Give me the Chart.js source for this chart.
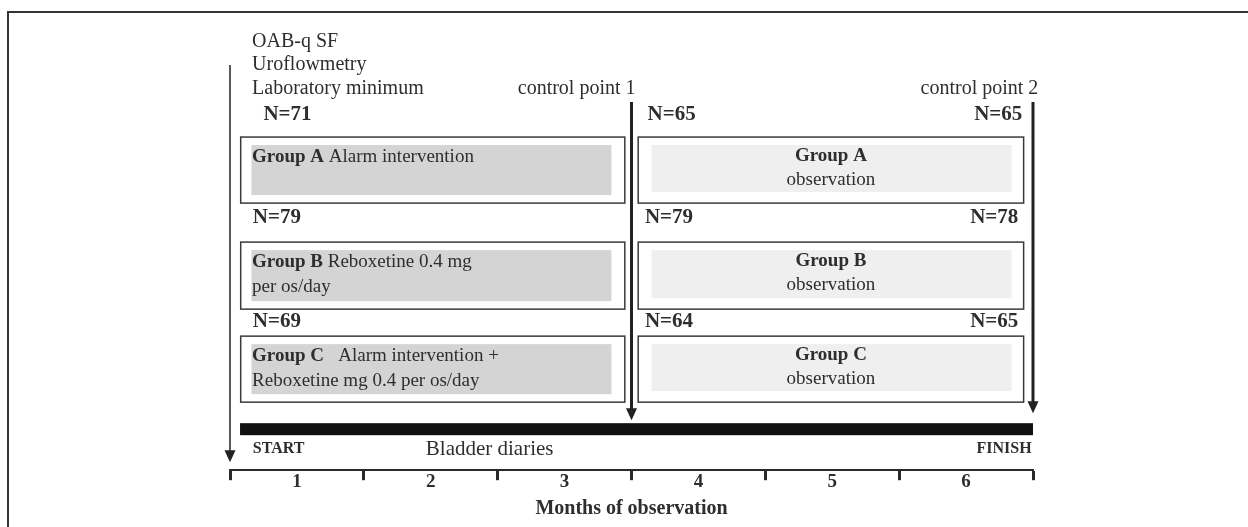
<!DOCTYPE html>
<html>
<head>
<meta charset="utf-8">
<script src="https://cdn.jsdelivr.net/npm/chart.js@4/dist/chart.umd.min.js"></script>
<style>
  html, body { margin: 0; padding: 0; background: #fff; }
  #wrap { width: 1248px; height: 527px; position: relative; }
</style>
</head>
<body>
<div id="wrap"><canvas id="plot"></canvas></div>
<script>
// data
const months = ['1', '2', '3', '4', '5', '6'];
const baselineTests = ['OAB-q SF', 'Uroflowmetry', 'Laboratory minimum'];
const groups = ['Group A', 'Group B', 'Group C'];
const treatment = [
    ['Alarm intervention'],
    ['Reboxetine 0.4 mg', 'per os/day'],
    ['  Alarm intervention +', 'Reboxetine mg 0.4 per os/day']
];
const followUp = 'observation';
const nStart = [71, 79, 69];
const nControl1 = [65, 79, 64];
const nControl2 = [65, 78, 65];
const controlMonths = [3, 6];
const controlLabels = ['control point 1', 'control point 2'];
const diaryLabels = ['START', 'Bladder diaries', 'FINISH'];

// layout (x in months, y in the layout scale that runs top->down)
const L = {
    boxTop: [137, 242, 336],
    boxBottom: [203, 309, 402],
    fillInset: [8, 8, 8],
    nRowY: [115, 217, 321],
    nStartX: [0.25, 0.17, 0.17],
    nCp1X: [3.12, 3.10, 3.10],
    nCp2X: [5.92, 5.89, 5.89],
    leftBox: [0.08, 2.95], leftFill: [0.16, 2.85],
    rightBox: [3.05, 5.93], rightFill: [3.15, 5.84],
    textX: 0.165,
    topTextY: [42, 65, 89],
    cpTextX: [3.03, 6.04],
    arrowTop: [65, 102, 102], arrowTip: [462, 420, 413],
    barX: [0.075, 6], barY: [423, 435],
    diaryY: 449, diaryX: [0.17, 1.94, 5.99]
};

const FONT = '"Liberation Serif", "Times New Roman", serif';
const INK = '#2e2e2e';

function font(size, bold) { return (bold ? 'bold ' : '') + size + 'px ' + FONT; }

function rich(ctx, parts, x, y, align) {
    let w = 0;
    parts.forEach(p => { ctx.font = font(p.size, p.bold); w += ctx.measureText(p.t).width; });
    let cx = align === 'center' ? x - w / 2 : (align === 'right' ? x - w : x);
    ctx.textAlign = 'left';
    parts.forEach(p => {
        ctx.font = font(p.size, p.bold);
        ctx.fillText(p.t, cx, y);
        cx += ctx.measureText(p.t).width;
    });
}

function arrow(ctx, x, y0, y1, lw) {
    ctx.save();
    ctx.strokeStyle = '#222';
    ctx.fillStyle = '#222';
    ctx.lineWidth = lw;
    ctx.beginPath();
    ctx.moveTo(x, y0);
    ctx.lineTo(x, y1 - 10);
    ctx.stroke();
    ctx.beginPath();
    ctx.moveTo(x - 5.5, y1 - 12);
    ctx.lineTo(x + 5.5, y1 - 12);
    ctx.lineTo(x, y1);
    ctx.closePath();
    ctx.fill();
    ctx.restore();
}

const diagram = {
    id: 'diagram',
    afterDraw(chart) {
        const ctx = chart.ctx;
        const X = v => chart.scales.x.getPixelForValue(v);
        const Y = v => chart.scales.y.getPixelForValue(v);
        ctx.save();

        // outer frame
        ctx.strokeStyle = '#333';
        ctx.lineWidth = 2;
        ctx.strokeRect(8, 12, 1300, 600);

        ctx.fillStyle = INK;
        ctx.textBaseline = 'middle';

        // baseline tests
        baselineTests.forEach((t, i) => rich(ctx, [{t: t, size: 20}], X(L.textX), Y(L.topTextY[i]), 'left'));
        // control points
        controlLabels.forEach((t, i) => rich(ctx, [{t: t, size: 20}], X(L.cpTextX[i]), Y(L.topTextY[2]), 'right'));

        // boxes
        groups.forEach((g, i) => {
            const t = Y(L.boxTop[i]), b = Y(L.boxBottom[i]);
            const ins = L.fillInset[i];
            ctx.fillStyle = '#d4d4d4';
            ctx.fillRect(X(L.leftFill[0]), t + ins, X(L.leftFill[1]) - X(L.leftFill[0]), b - t - 2 * ins);
            ctx.fillStyle = '#efefef';
            ctx.fillRect(X(L.rightFill[0]), t + ins, X(L.rightFill[1]) - X(L.rightFill[0]), b - t - 2 * ins - 3);
            ctx.strokeStyle = '#3a3a3a';
            ctx.lineWidth = 1.5;
            ctx.strokeRect(X(L.leftBox[0]), t, X(L.leftBox[1]) - X(L.leftBox[0]), b - t);
            ctx.strokeRect(X(L.rightBox[0]), t, X(L.rightBox[1]) - X(L.rightBox[0]), b - t);

            ctx.fillStyle = INK;
            const lines = treatment[i];
            rich(ctx, [{t: g, size: 19, bold: true}, {t: ' ' + lines[0], size: 19}], X(L.textX), t + 20, 'left');
            if (lines[1]) rich(ctx, [{t: lines[1], size: 19}], X(L.textX), t + 45, 'left');

            const cx = X((L.rightBox[0] + L.rightBox[1]) / 2);
            rich(ctx, [{t: g, size: 19, bold: true}], cx, t + 19, 'center');
            rich(ctx, [{t: followUp, size: 19}], cx, t + 43, 'center');

            // sample sizes
            const ny = Y(L.nRowY[i]);
            rich(ctx, [{t: 'N=' + nStart[i], size: 21, bold: true}], X(L.nStartX[i]), ny, 'left');
            rich(ctx, [{t: 'N=' + nControl1[i], size: 21, bold: true}], X(L.nCp1X[i]), ny, 'left');
            rich(ctx, [{t: 'N=' + nControl2[i], size: 21, bold: true}], X(L.nCp2X[i]), ny, 'right');
        });

        // arrows: start + control points
        arrow(ctx, X(0), Y(L.arrowTop[0]), Y(L.arrowTip[0]), 1.5);
        controlMonths.forEach((m, i) => arrow(ctx, X(m), Y(L.arrowTop[i + 1]), Y(L.arrowTip[i + 1]), 3));

        // bladder diary bar
        ctx.fillStyle = '#111';
        ctx.fillRect(X(L.barX[0]), Y(L.barY[0]), X(L.barX[1]) - X(L.barX[0]), Y(L.barY[1]) - Y(L.barY[0]));
        ctx.fillStyle = INK;
        rich(ctx, [{t: diaryLabels[0], size: 16, bold: true}], X(L.diaryX[0]), Y(L.diaryY), 'left');
        rich(ctx, [{t: diaryLabels[1], size: 21}], X(L.diaryX[1]), Y(L.diaryY), 'center');
        rich(ctx, [{t: diaryLabels[2], size: 16, bold: true}], X(L.diaryX[2]), Y(L.diaryY), 'right');

        ctx.restore();
    }
};

new Chart(document.getElementById('plot'), {
    type: 'scatter',
    data: { datasets: [] },
    options: {
        responsive: true,
        maintainAspectRatio: false,
        animation: false,
        layout: { padding: { left: 230, right: 215, top: 0, bottom: 4 } },
        plugins: { legend: { display: false }, tooltip: { enabled: false } },
        scales: {
            x: {
                type: 'linear',
                min: 0,
                max: 6,
                position: 'bottom',
                border: { display: true, color: '#2a2a2a', width: 2 },
                grid: {
                    drawOnChartArea: false,
                    tickLength: 10,
                    tickWidth: c => (c.tick && Number.isInteger(c.tick.value)) ? 3 : 0,
                    tickColor: c => (c.tick && Number.isInteger(c.tick.value)) ? '#2a2a2a' : 'rgba(0,0,0,0)'
                },
                ticks: {
                    stepSize: 0.5,
                    autoSkip: false,
                    maxRotation: 0,
                    padding: -10,
                    color: INK,
                    font: { family: FONT, size: 19, weight: 'bold' },
                    callback: v => Number.isInteger(v) ? '' : months[Math.floor(v)]
                },
                title: {
                    display: true,
                    text: 'Months of observation',
                    color: INK,
                    font: { family: FONT, size: 20, weight: 'bold' },
                    padding: { top: 14, bottom: 2 }
                }
            },
            y: {
                type: 'linear',
                display: false,
                reverse: true,
                min: 0,
                max: 470
            }
        }
    },
    plugins: [diagram]
});
</script>
</body>
</html>
